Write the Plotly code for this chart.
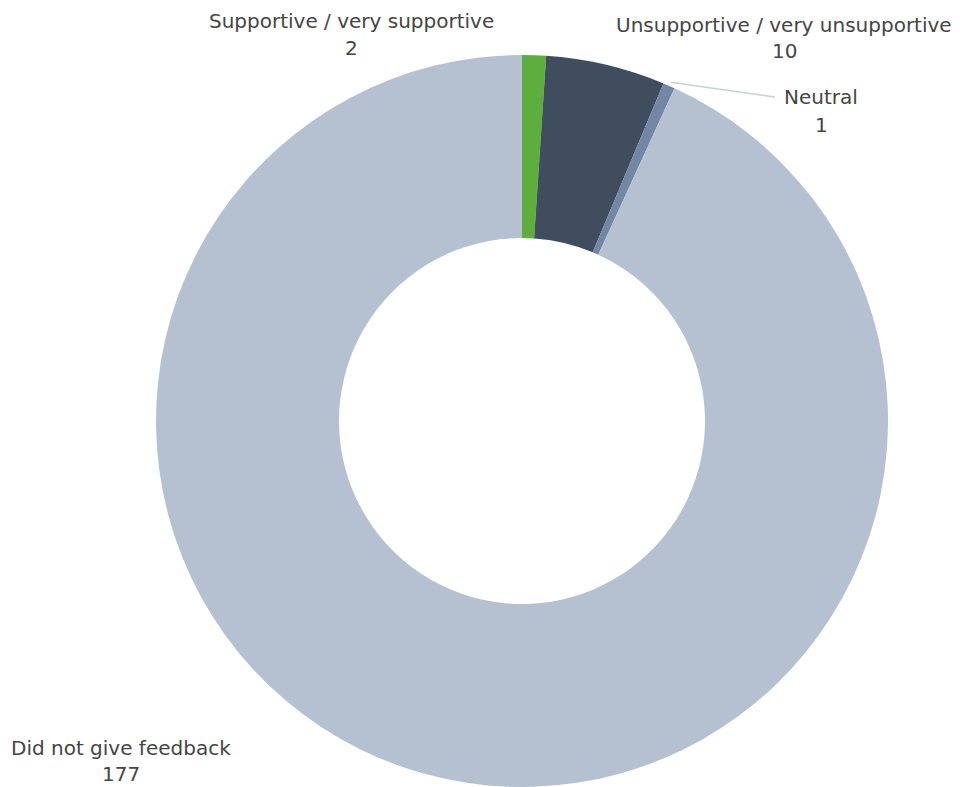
import math
import plotly.graph_objects as go

categories = ["Supportive / very supportive", "Unsupportive / very unsupportive", "Neutral", "Did not give feedback"]
values = [2, 10, 1, 177]
colors = ["#5DAE3F", "#3F4D5F", "#7386A3", "#B5C1D0"]

W, H = 960, 787
cx, cy, R = 522, 421, 366

fig = go.Figure(go.Pie(
    labels=categories, values=values, sort=False, direction="clockwise", rotation=0,
    hole=0.5, textinfo="none", hoverinfo="label+value",
    marker=dict(colors=colors, line=dict(width=0)),
    domain=dict(x=[(cx - R) / W, (cx + R) / W], y=[0, 1 - (cy - R) / H]),
    showlegend=False,
))

# label placements (pixel centres of name / value lines)
label_pos = {
    "Supportive / very supportive": (351, 21, 48),
    "Unsupportive / very unsupportive": (784, 25, 51),
    "Neutral": (821, 97, 125),
    "Did not give feedback": (121, 748, 774),
}
font = dict(family="'DejaVu Sans', sans-serif", size=20, color="#454545")
for cat, v in zip(categories, values):
    x, y1, y2 = label_pos[cat]
    fig.add_annotation(x=x / W, y=1 - y1 / H, xref="paper", yref="paper", text=cat,
                       showarrow=False, font=font, xanchor="center", yanchor="middle")
    fig.add_annotation(x=x / W, y=1 - y2 / H, xref="paper", yref="paper", text=str(v),
                       showarrow=False, font=font, xanchor="center", yanchor="middle")

# leader line for the Neutral slice, starting at the slice's mid-angle on the outer edge
total = sum(values)
idx = categories.index("Neutral")
mid = (sum(values[:idx]) + values[idx] / 2) / total * 2 * math.pi
sx, sy = cx + (R + 4) * math.sin(mid), cy - (R + 4) * math.cos(mid)
fig.add_shape(type="line", xref="paper", yref="paper",
              x0=sx / W, y0=1 - sy / H, x1=775 / W, y1=1 - 97 / H,
              line=dict(color="#C8D0D8", width=1.5))

fig.update_layout(width=W, height=H, margin=dict(l=0, r=0, t=0, b=0),
                  paper_bgcolor="white", plot_bgcolor="white")
fig.write_html("out.html")
